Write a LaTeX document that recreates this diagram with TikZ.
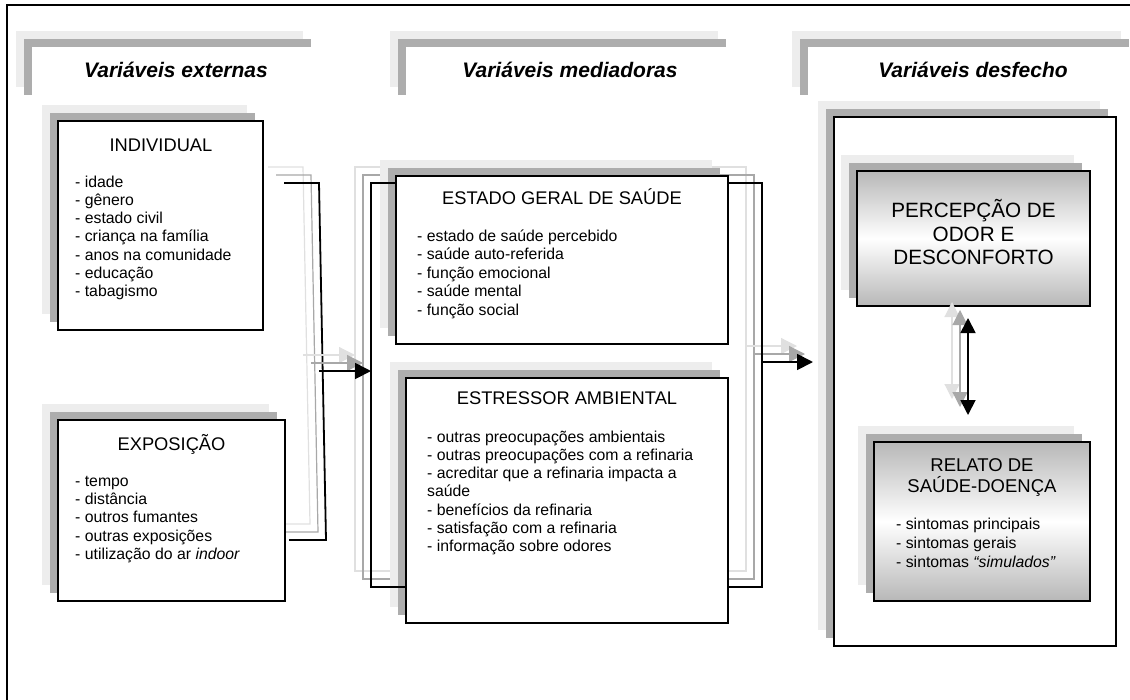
\documentclass[tikz,border=0pt]{standalone}
\usepackage{fontspec}
\setmainfont{Liberation Sans}
\usetikzlibrary{arrows.meta,fit,shadows}

\definecolor{shlight}{gray}{0.93}
\definecolor{shdark}{gray}{0.68}
\definecolor{lnlight}{gray}{0.88}
\definecolor{lndark}{gray}{0.66}
\definecolor{gradgray}{gray}{0.72}

\begin{document}
\begin{tikzpicture}[
  x=1pt, y=-1pt,
  sh/.style={general shadow={fill=shlight, shadow xshift=-16pt, shadow yshift=16pt},
             general shadow={fill=shdark, shadow xshift=-8pt, shadow yshift=8pt}},
  hdr/.style={sh, fill=white, inner sep=0pt, outer sep=0pt},
  box/.style={sh, draw, fill=white, line width=1.4pt, inner sep=0pt, outer sep=0pt},
  gbox/.style={sh, draw, top color=gradgray, bottom color=gradgray, middle color=white,
               line width=1.4pt, inner sep=0pt, outer sep=0pt},
  htxt/.style={font=\fontsize{21}{24}\selectfont\bfseries\itshape, anchor=base, inner sep=0pt},
  ttl/.style={font=\fontsize{18.3}{22}\selectfont, anchor=base, inner sep=0pt},
  itm/.style={font=\fontsize{15.8}{18}\selectfont, anchor=base west, inner sep=0pt},
  lnk/.style={line width=1.8pt},
  lsh/.style={preaction={draw=lnlight, line width=1.2pt, #1, transform canvas={shift={(-16pt,16pt)}}},
              preaction={draw=lndark, line width=1.2pt, #1, transform canvas={shift={(-8pt,8pt)}}}},
  lsh/.default=-,
  arrowhd/.style={arrows={-Triangle[length=16pt,width=16pt]}},
  dblarrow/.style={arrows={Triangle[length=15pt,width=15pt]-Triangle[length=15pt,width=15pt]}}
  ]
  \useasboundingbox (0,0) rectangle (1130,699);
  % outer frame, runs off the page on the right and at the bottom
  \draw[line width=2pt] (1140,5) -- (7,5) -- (7,710);

  % column headers
  \node[hdr, fit={(32,47) (319,103)}] (hdrA) {};
  \node[hdr, fit={(406,47) (734,103)}] (hdrB) {};
  \node[hdr, fit={(808,47) (1137,103)}] (hdrC) {};
  \node[htxt] (hdrAtxt) at (176,77) {Variáveis externas};
  \node[htxt] (hdrBtxt) at (570,77) {Variáveis mediadoras};
  \node[htxt] (hdrCtxt) at (973,77) {Variáveis desfecho};

  % bracket joining the external variables
  \coordinate (brA) at (284,183);
  \coordinate (brB) at (319,183);
  \coordinate (brC) at (326,540);
  \coordinate (brD) at (289,540);
  \coordinate (brM) at (319,371);
  \draw[lnk, lsh] (brA) -- (brB) -- (brC) -- (brD);

  % frame round the mediators
  \node[inner sep=0pt, outer sep=0pt, fit={(371,183) (762,587)}] (med) {};
  \draw[lnlight, line width=1.2pt] ([shift={(-16,-16)}]med.north west) rectangle ([shift={(-16,-16)}]med.south east);
  \draw[lndark, line width=1.2pt] ([shift={(-8,-8)}]med.north west) rectangle ([shift={(-8,-8)}]med.south east);

  % arrows between the columns
  \coordinate (medR) at (762,362);
  \coordinate (desfIn) at (813,362);
  \draw[lnk, lsh=arrowhd, arrowhd] (brM) -- (med.west |- brM);
  \draw[lnk, lsh=arrowhd, arrowhd] (medR) -- (desfIn);

  % external variables
  \node[box, fit={(58,121) (263,330)}] (indiv) {};
  \node[ttl] (indivttl) at (161,151.5) {INDIVIDUAL};
  \foreach \t [count=\i from 0] in {- idade, - gênero, - estado civil, - criança na família,
      - anos na comunidade, - educação, - tabagismo}
    \node[itm] (indiv\i) at (75,187+18.33*\i) {\t};

  \node[box, fit={(58,420) (285,601)}] (expo) {};
  \node[ttl] (expottl) at (171.5,450) {EXPOSIÇÃO};
  \foreach \t [count=\i from 0] in {- tempo, - distância, - outros fumantes, - outras exposições,
      - utilização do ar \textit{indoor}}
    \node[itm] (expo\i) at (75,486+18.4*\i) {\t};

  % mediators
  \node[box, fit={(396,176) (728,344)}] (estado) {};
  \node[ttl] (estadottl) at (562,204.5) {ESTADO GERAL DE SAÚDE};
  \foreach \t [count=\i from 0] in {- estado de saúde percebido, - saúde auto-referida,
      - função emocional, - saúde mental, - função social}
    \node[itm] (estado\i) at (417,241+18.5*\i) {\t};

  \node[box, fit={(406,378) (728,623)}] (estres) {};
  \node[ttl] (estresttl) at (567,404.5) {ESTRESSOR AMBIENTAL};
  \foreach \t [count=\i from 0] in {- outras preocupações ambientais,
      - outras preocupações com a refinaria, - acreditar que a refinaria impacta a, saúde,
      - benefícios da refinaria, - satisfação com a refinaria, - informação sobre odores}
    \node[itm] (estres\i) at (427,442+18.33*\i) {\t};

  % the parts of the mediators frame that show
  \draw[lnk] (estado.west |- med.north) -| (med.south west) -- (estres.west |- med.south);
  \draw[lnk] (estado.east |- med.north) -| (med.south east) -- (estres.east |- med.south);

  % outcomes
  \node[box, line width=2.3pt, fit={(834,117) (1116,646)}] (desf) {};
  \node[gbox, fit={(857,171) (1090,306)}] (perc) {};
  \foreach \t [count=\i from 0] in {PERCEPÇÃO DE, ODOR E, DESCONFORTO}
    \node[ttl, font=\fontsize{20.7}{24}\selectfont] (perc\i) at (973.5,217.5+23.5*\i) {\t};

  \node[gbox, fit={(874,442) (1090,601)}] (relato) {};
  \node[ttl, font=\fontsize{18.5}{22}\selectfont] (relato0) at (982,471.6) {RELATO DE};
  \node[ttl, font=\fontsize{18.5}{22}\selectfont] (relato1) at (982,492.6) {SAÚDE-DOENÇA};
  \foreach \t [count=\i from 0] in {- sintomas principais, - sintomas gerais,
      - sintomas \textit{“simulados”}}
    \node[itm] (sint\i) at (896,529+19*\i) {\t};

  \draw[lnk, lsh=dblarrow, dblarrow] ([shift={(-5.5,12)}]perc.south) -- ([shift={(-14,-27)}]relato.north);
\end{tikzpicture}
\end{document}
